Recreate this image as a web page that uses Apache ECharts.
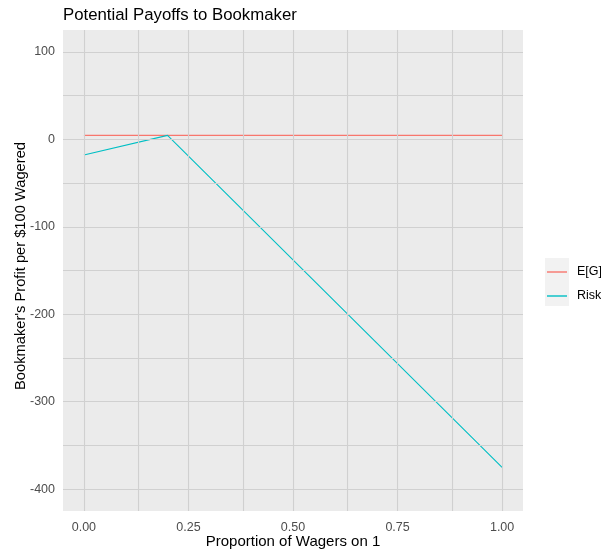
<!DOCTYPE html>
<html>
<head>
<meta charset="utf-8">
<script src="https://cdn.jsdelivr.net/npm/echarts@6/dist/echarts.min.js"></script>
<style>
html,body{margin:0;padding:0;background:#fff;}
#c{width:601px;height:552px;}
</style>
</head>
<body>
<div id="c"></div>
<script>
// Data
const propWagers = [0, 0.2, 1];
const riskValues = [-18, 4.5, -375];
const egX = [0, 1];
const egValues = [4.5, 4.5];
const xTicks = [0, 0.25, 0.5, 0.75, 1];
const xGridVals = [0, 0.125, 0.25, 0.375, 0.5, 0.625, 0.75, 0.875, 1];
const yTicks = [-400, -300, -200, -100, 0, 100];
const yGridVals = [-400, -350, -300, -250, -200, -150, -100, -50, 0, 50, 100];

const chart = echarts.init(document.getElementById('c'));
const gridLineStyle = {color: '#D0D0D0', width: 1.1, type: 'solid'};
const markData = xGridVals.map(v => ({xAxis: v}))
  .concat(yGridVals.map(v => ({yAxis: v})));

chart.setOption({
  animation: false,
  backgroundColor: '#ffffff',
  textStyle: {fontFamily: 'Liberation Sans, Arial, sans-serif'},
  title: {
    text: 'Potential Payoffs to Bookmaker',
    left: 58, top: 2,
    textStyle: {fontSize: 16.8, fontWeight: 'normal', color: '#000', fontFamily: 'Liberation Sans, Arial, sans-serif'}
  },
  grid: {
    left: 63, top: 30, right: 78, bottom: 41,
    show: true, backgroundColor: '#EBEBEB', borderWidth: 0,
    containLabel: false,
    outerBoundsMode: 'none'
  },
  legend: {
    data: ['E[G]', 'Risk'],
    orient: 'vertical',
    left: 547, top: 265, padding: 0,
    itemWidth: 20, itemHeight: 1.4, itemGap: 10,
    icon: 'rect',
    textStyle: {fontSize: 12.5, color: '#000', lineHeight: 14, padding: [0, 0, 0, 5], fontFamily: 'Liberation Sans, Arial, sans-serif'}
  },
  graphic: [{
    type: 'rect', left: 545, top: 258, z: -1,
    shape: {width: 24, height: 48},
    style: {fill: '#F2F2F2'}
  }],
  xAxis: {
    type: 'value', min: -0.05, max: 1.05,
    name: 'Proportion of Wagers on 1',
    nameLocation: 'middle', nameGap: 23, nameMoveOverlap: false,
    nameTextStyle: {fontSize: 15, color: '#000'},
    axisLine: {show: false},
    splitLine: {show: false},
    axisTick: {show: true, customValues: xTicks, length: 4, lineStyle: {color: '#333', width: 1}},
    axisLabel: {customValues: xTicks, margin: 10, fontSize: 12.5, color: '#4D4D4D',
      formatter: v => Number(v).toFixed(2)}
  },
  yAxis: {
    type: 'value', min: -425, max: 125,
    name: "Bookmaker's Profit per $100 Wagered",
    nameLocation: 'middle', nameGap: 35, nameRotate: 90, nameMoveOverlap: false,
    nameTextStyle: {fontSize: 14.7, color: '#000', padding: [0, 0, 0, 9]},
    axisLine: {show: false},
    splitLine: {show: false},
    axisTick: {show: true, customValues: yTicks, length: 4, lineStyle: {color: '#333', width: 1}},
    axisLabel: {customValues: yTicks, margin: 8, fontSize: 12.5, color: '#4D4D4D'}
  },
  series: [
    {
      name: 'grid', type: 'line', data: [], z: 0, silent: true,
      markLine: {silent: true, symbol: ['none', 'none'], label: {show: false},
        lineStyle: gridLineStyle, emphasis: {disabled: true}, data: markData}
    },
    {
      name: 'E[G]', type: 'line', showSymbol: false, z: 2,
      lineStyle: {color: '#F8766D', width: 1.1}, itemStyle: {color: '#F8766D'},
      data: egX.map((x, i) => [x, egValues[i]])
    },
    {
      name: 'Risk', type: 'line', showSymbol: false, z: 3,
      lineStyle: {color: '#00BFC4', width: 1.1}, itemStyle: {color: '#00BFC4'},
      data: propWagers.map((x, i) => [x, riskValues[i]])
    }
  ]
});
</script>
</body>
</html>
